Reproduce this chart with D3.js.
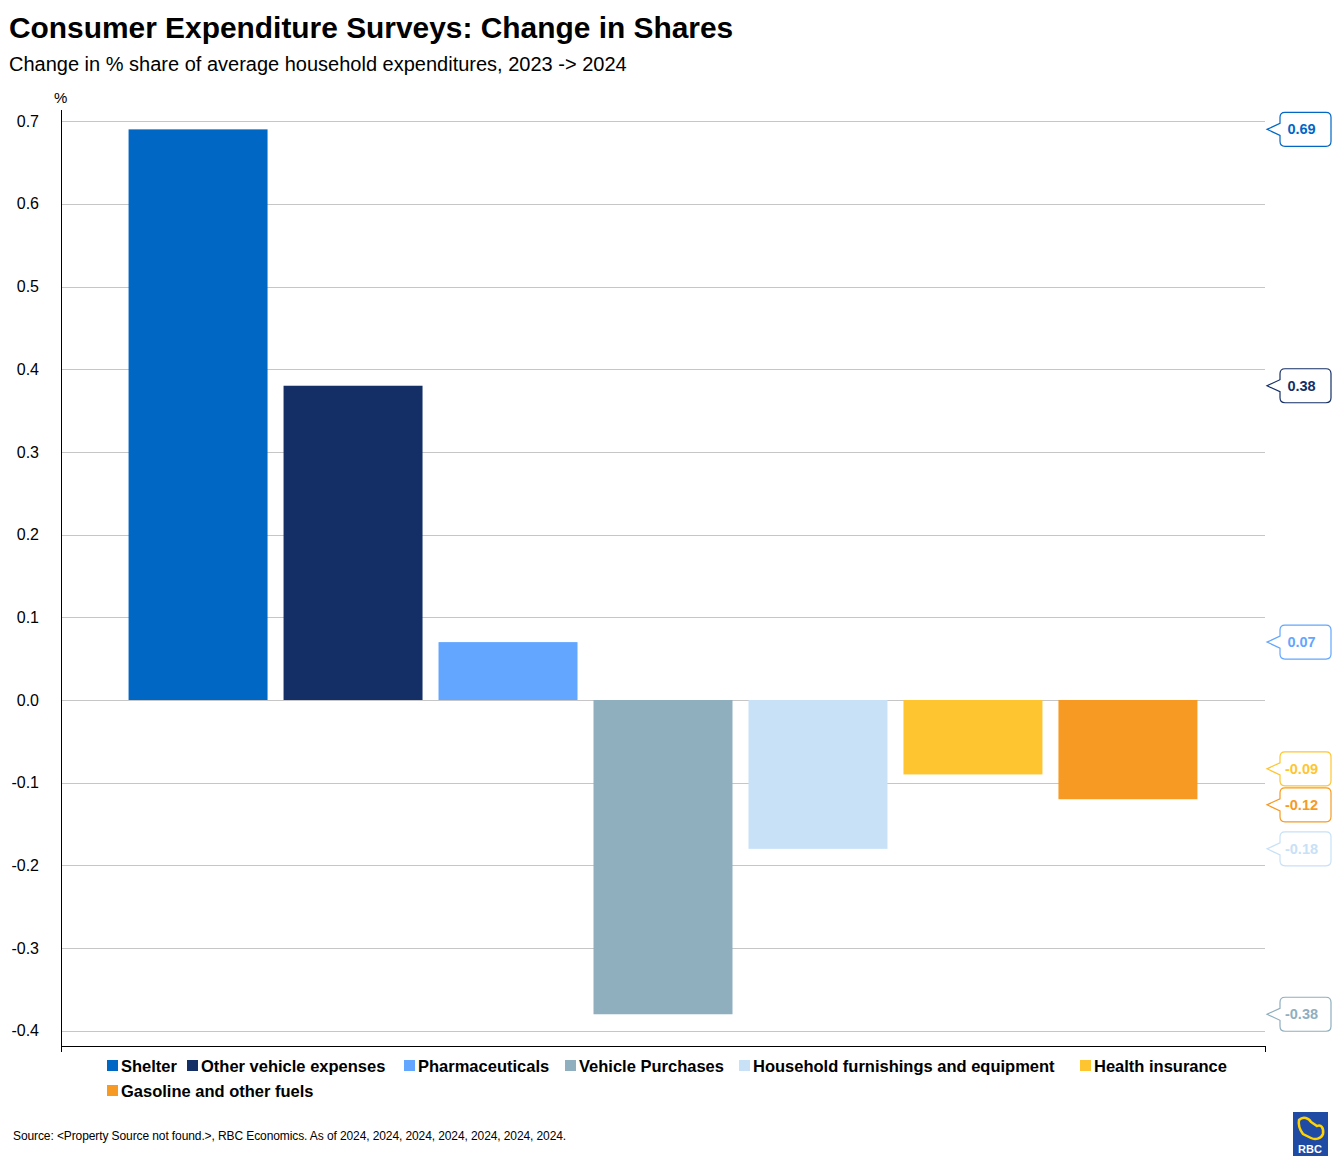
<!DOCTYPE html>
<html>
<head>
<meta charset="utf-8">
<script src="https://cdn.jsdelivr.net/npm/d3@7"></script>
<style>
  body { margin: 0; background: #fff; }
  svg { display: block; font-family: "Liberation Sans", Arial, sans-serif; }
</style>
</head>
<body>
<svg id="chart" width="1342" height="1168"></svg>
<script>
// ---- data ----
const categories = ['Shelter', 'Other vehicle expenses', 'Pharmaceuticals', 'Vehicle Purchases',
  'Household furnishings and equipment', 'Health insurance', 'Gasoline and other fuels'];
const values = [0.69, 0.38, 0.07, -0.38, -0.18, -0.09, -0.12];
const barColors = ['#0067C5', '#142F66', '#63A6FF', '#8FAFBF', '#C8E1F7', '#FFC530', '#F69A24'];
const yTicks = [0.7, 0.6, 0.5, 0.4, 0.3, 0.2, 0.1, 0, -0.1, -0.2, -0.3, -0.4];

// ---- layout ----
const P = { left: 61, right: 1265, top: 110, bottom: 1046 };
const svg = d3.select('#chart');
const fmt = (n) => (v) => d3.format(`.${n}f`)(v).replace('\u2212', '-');

svg.append('text').attr('x', 9).attr('y', 38)
  .attr('font-size', 29.9).attr('font-weight', 'bold').attr('fill', '#000')
  .text('Consumer Expenditure Surveys: Change in Shares');
svg.append('text').attr('x', 9).attr('y', 71)
  .attr('font-size', 20).attr('fill', '#000')
  .text('Change in % share of average household expenditures, 2023 -> 2024');

// y: 0 at 700, 0.1 = 82.7px
const vTop = (700 - P.top) / 827, vBot = -(P.bottom - 700) / 827;
const y = d3.scaleLinear().domain([vBot, vTop]).range([P.bottom, P.top]);

const x = d3.scaleBand().domain(categories).range([P.left, P.right])
  .paddingInner(16 / 155).paddingOuter(0.436);

// grid
svg.append('g').selectAll('line').data(yTicks).join('line')
  .attr('x1', P.left).attr('x2', P.right)
  .attr('y1', d => Math.round(y(d)) + 0.5).attr('y2', d => Math.round(y(d)) + 0.5)
  .attr('stroke', '#c6c6c6').attr('stroke-width', 1);

// y axis
const yAxis = svg.append('g').attr('transform', `translate(${P.left},0)`)
  .call(d3.axisLeft(y).tickValues(yTicks).tickSize(0).tickPadding(22).tickFormat(fmt(1)));
yAxis.select('.domain').remove();
yAxis.selectAll('text').attr('font-size', 16).attr('fill', '#000')
  .attr('font-family', '"Liberation Sans", Arial, sans-serif');
svg.append('line').attr('x1', P.left + 0.5).attr('x2', P.left + 0.5)
  .attr('y1', P.top).attr('y2', P.bottom + 6).attr('stroke', '#000');
svg.append('text').attr('x', 54).attr('y', 103).attr('font-size', 15).text('%');

// bars
svg.append('g').selectAll('rect').data(values).join('rect')
  .attr('x', (d, i) => x(categories[i]))
  .attr('width', x.bandwidth())
  .attr('y', d => y(Math.max(0, d)))
  .attr('height', d => Math.abs(y(d) - y(0)))
  .attr('fill', (d, i) => barColors[i]);

// x axis line
svg.append('line').attr('x1', P.left).attr('x2', P.right + 0.5)
  .attr('y1', P.bottom + 0.5).attr('y2', P.bottom + 0.5).attr('stroke', '#000');
svg.append('line').attr('x1', P.right + 0.5).attr('x2', P.right + 0.5)
  .attr('y1', P.bottom).attr('y2', P.bottom + 6).attr('stroke', '#000');

// callout labels on the right, spread to avoid overlap
const H = 34, GAP = 36;
let labels = values.map((v, i) => ({ v, i, pos: y(v) })).sort((a, b) => a.pos - b.pos);
for (let iter = 0; iter < 50; iter++) {
  for (let k = 1; k < labels.length; k++) {
    const a = labels[k - 1], b = labels[k];
    const d = b.pos - a.pos;
    if (d < GAP) { const s = (GAP - d) / 2; a.pos -= s; b.pos += s; }
  }
}
const bx = 1280, bw = 51, r = 5, tipX = 1267;
const callout = (cy) => {
  const t = cy - H / 2, b = cy + H / 2;
  return `M${bx + r},${t} H${bx + bw - r} Q${bx + bw},${t} ${bx + bw},${t + r}` +
    ` V${b - r} Q${bx + bw},${b} ${bx + bw - r},${b} H${bx + r} Q${bx},${b} ${bx},${b - r}` +
    ` V${cy + 6} L${tipX},${cy} L${bx},${cy - 6} V${t + r} Q${bx},${t} ${bx + r},${t} Z`;
};
const lg = svg.append('g').selectAll('g').data(labels).join('g');
lg.append('path').attr('d', d => callout(d.pos))
  .attr('fill', '#fff').attr('stroke', d => barColors[d.i]).attr('stroke-width', 1.2);
lg.append('text').attr('x', bx + bw / 2 - 4).attr('y', d => d.pos + 5)
  .attr('text-anchor', 'middle').attr('font-size', 14.5).attr('font-weight', 'bold')
  .attr('fill', d => barColors[d.i]).text(d => fmt(2)(d.v));

// legend
const legendPos = [[107, 1066], [187, 1066], [404, 1066], [565, 1066], [739, 1066], [1080, 1066], [107, 1091]];
const leg = svg.append('g').selectAll('g').data(categories).join('g')
  .attr('transform', (d, i) => `translate(${legendPos[i][0]},${legendPos[i][1]})`);
leg.append('rect').attr('x', 0).attr('y', -6).attr('width', 11).attr('height', 11)
  .attr('fill', (d, i) => barColors[i]);
leg.append('text').attr('x', 14).attr('y', 6).attr('font-size', 16.5).attr('font-weight', 'bold')
  .attr('fill', '#000').text(d => d);

// source
svg.append('text').attr('x', 13).attr('y', 1140).attr('font-size', 12).attr('letter-spacing', -0.1)
  .text('Source: <Property Source not found.>, RBC Economics. As of 2024, 2024, 2024, 2024, 2024, 2024, 2024.');

// RBC logo (simplified)
const logo = svg.append('g').attr('transform', 'translate(1293,1112)');
logo.append('rect').attr('width', 35).attr('height', 44).attr('fill', '#1F4BA5');
logo.append('path').attr('d', 'M6,8 C10,4 16,6 18,10 L24,14 C28,12 31,16 30,22 C28,27 22,28 18,26 L10,22 C7,18 5,13 6,8 Z')
  .attr('fill', 'none').attr('stroke', '#FFD200').attr('stroke-width', 2.5);
logo.append('text').attr('x', 17).attr('y', 41).attr('text-anchor', 'middle')
  .attr('font-size', 11).attr('font-weight', 'bold').attr('fill', '#fff').text('RBC');
</script>
</body>
</html>
